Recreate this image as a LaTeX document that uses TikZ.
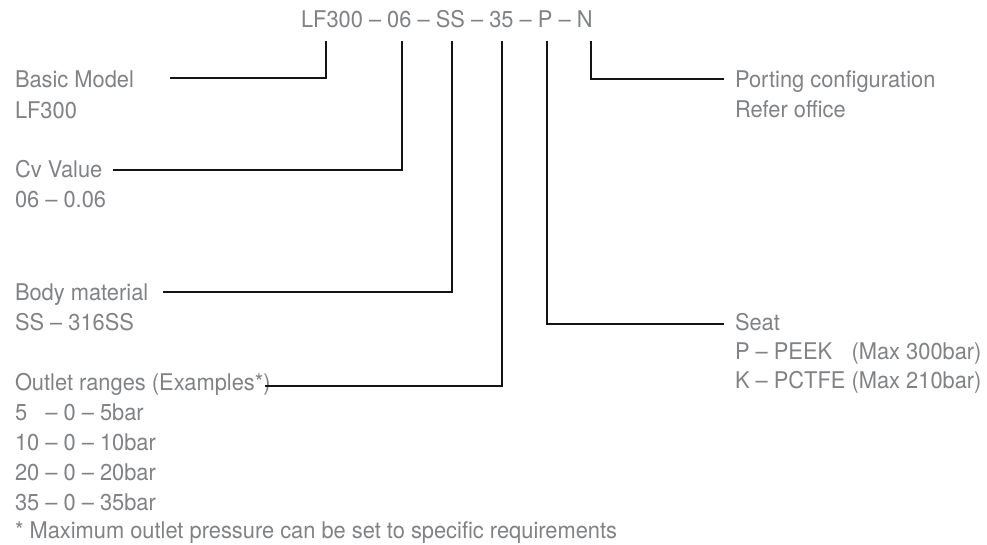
\documentclass[tikz,border=0pt]{standalone}
\usepackage{fontspec}
\setmainfont{TeX Gyre Heros}[FakeStretch=0.95]
\definecolor{txtgray}{RGB}{128,130,133}
\definecolor{linecol}{RGB}{20,20,20}
\begin{document}
\begin{tikzpicture}[x=1pt,y=-1pt,
  lbl/.style={anchor=base west,inner sep=0pt,outer sep=0pt,text=txtgray,font=\fontsize{23}{30}\selectfont},
  ttl/.style={anchor=base west,inner sep=0pt,outer sep=0pt,text=txtgray,font=\fontsize{23}{30}\selectfont},
  conn/.style={draw=linecol,line width=1.9pt,line join=miter}]
\useasboundingbox (0,0) rectangle (987,545);
% title
\node[ttl] (title) at (301,28) {LF300 – 06 – SS – 35 – P – N};
% tick tops
\coordinate (tLF) at (326,41);
\coordinate (tCv) at (402,41);
\coordinate (tSS) at (452,41);
\coordinate (tP35) at (502,41);
\coordinate (tP) at (547,41);
\coordinate (tN) at (591,41);
% left labels
\node[lbl] (basic1) at (15,88) {Basic Model};
\node[lbl] (basic2) at (15,119) {LF300};
\node[lbl] (cv1) at (15,178) {Cv Value};
\node[lbl] (cv2) at (15,208) {06 – 0.06};
\node[lbl] (body1) at (15,300) {Body material};
\node[lbl] (body2) at (15,330) {SS – 316SS};
\node[lbl] (out1) at (15,390) {Outlet ranges (Examples*)};
\node[lbl] (out2) at (15,420) {5\hphantom{0} – 0 – 5bar};
\node[lbl] (out3) at (15,450) {10 – 0 – 10bar};
\node[lbl] (out4) at (15,480) {20 – 0 – 20bar};
\node[lbl] (out5) at (15,510) {35 – 0 – 35bar};
\node[lbl] (foot) at (15,538) {* Maximum outlet pressure can be set to specific requirements};
% right labels
\node[lbl] (port1) at (735,88) {Porting configuration};
\node[lbl] (port2) at (735,118) {Refer office};
\node[lbl] (seat1) at (735,330) {Seat};
\node[lbl] (seat2) at (735,359) {P – \rlap{PEEK}\hphantom{PCTFE} (Max 300bar)};
\node[lbl] (seat3) at (735,388) {K – PCTFE (Max 210bar)};
% connector start points
\coordinate (cBasic) at (170,78);
\coordinate (cCv) at (113,170);
\coordinate (cBody) at (163,292);
\coordinate (cOut) at (265,386);
\coordinate (cSeat) at (724,324);
\coordinate (cPort) at (724,79);
% connectors
\draw[conn] (cBasic) -| (tLF);
\draw[conn] (cCv) -| (tCv);
\draw[conn] (cBody) -| (tSS);
\draw[conn] (cOut) -| (tP35);
\draw[conn] (cSeat) -| (tP);
\draw[conn] (cPort) -| (tN);
\end{tikzpicture}
\end{document}
